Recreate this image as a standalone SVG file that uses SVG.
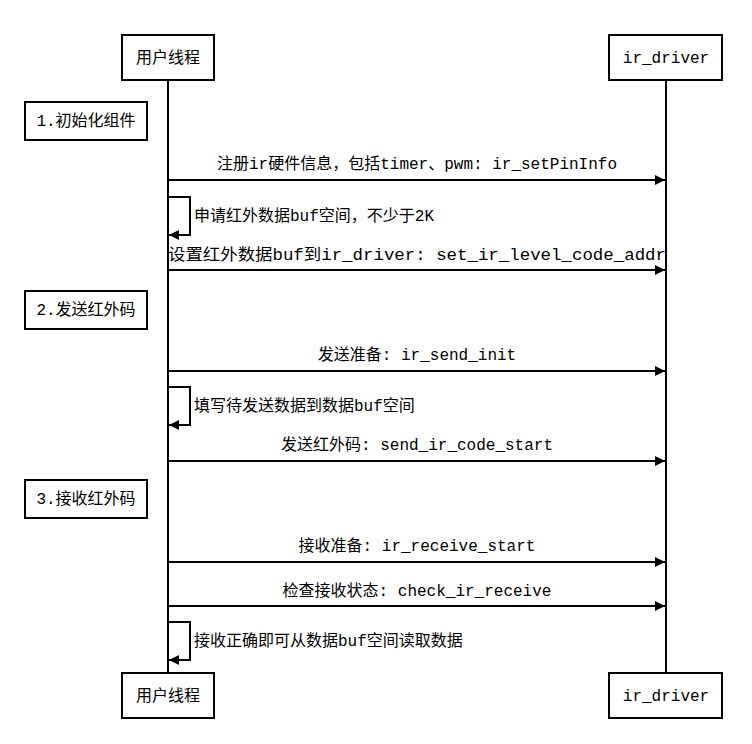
<svg xmlns="http://www.w3.org/2000/svg" width="752" height="744" viewBox="0 0 752 744">
<style>
.b{fill:#fff;stroke:#000;stroke-width:2}
.l{stroke:#000;stroke-width:2;fill:none}
text{font-family:'Courier New','Liberation Mono','DejaVu Sans Mono','Noto Sans CJK SC',monospace;font-size:16px;fill:#000}
.c{text-anchor:middle}
</style>
<defs><marker id="a" markerWidth="10" markerHeight="10" refX="10" refY="5" orient="auto" markerUnits="userSpaceOnUse"><path d="M0,0L10,5L0,10z"/></marker></defs>
<rect width="752" height="744" fill="#fff"/>
<g id="lifelines">
<line class="l" x1="168" y1="80" x2="168" y2="673"/>
<line class="l" x1="666" y1="80" x2="666" y2="673"/>
</g>
<g id="user_top"><rect class="b" x="122" y="35" width="92" height="45"/><text class="c" x="168" y="63">用户线程</text></g>
<g id="drv_top"><rect class="b" x="609" y="35" width="113" height="45"/><text class="c" x="666" y="63">ir_driver</text></g>
<g id="user_bot"><rect class="b" x="122" y="673" width="92" height="45"/><text class="c" x="168" y="701">用户线程</text></g>
<g id="drv_bot"><rect class="b" x="609" y="673" width="113" height="45"/><text class="c" x="666" y="701">ir_driver</text></g>
<g id="n1"><rect class="b" x="25" y="102" width="122" height="38"/><text class="c" x="86" y="126">1.初始化组件</text></g>
<g id="n2"><rect class="b" x="25" y="291" width="122" height="38"/><text class="c" x="86" y="315">2.发送红外码</text></g>
<g id="n3"><rect class="b" x="25" y="480" width="122" height="38"/><text class="c" x="86" y="504">3.接收红外码</text></g>
<g id="connectors">
<line class="l" x1="168" y1="180" x2="665" y2="180" marker-end="url(#a)"/>
<text class="c" x="417" y="169">注册ir硬件信息，包括timer、pwm: ir_setPinInfo</text>
<path class="l" d="M168,197H190V235H169" marker-end="url(#a)"/>
<text x="194" y="221">申请红外数据buf空间，不少于2K</text>
<line class="l" x1="168" y1="270" x2="665" y2="270" marker-end="url(#a)"/>
<text x="168" y="260" textLength="498" lengthAdjust="spacingAndGlyphs">设置红外数据buf到ir_driver: set_ir_level_code_addr</text>
<line class="l" x1="168" y1="371" x2="665" y2="371" marker-end="url(#a)"/>
<text class="c" x="417" y="360">发送准备: ir_send_init</text>
<path class="l" d="M168,387H190V425H169" marker-end="url(#a)"/>
<text x="194" y="411">填写待发送数据到数据buf空间</text>
<line class="l" x1="168" y1="461" x2="665" y2="461" marker-end="url(#a)"/>
<text class="c" x="417" y="450">发送红外码: send_ir_code_start</text>
<line class="l" x1="168" y1="562" x2="665" y2="562" marker-end="url(#a)"/>
<text class="c" x="417" y="551">接收准备: ir_receive_start</text>
<line class="l" x1="168" y1="606" x2="665" y2="606" marker-end="url(#a)"/>
<text class="c" x="417" y="596">检查接收状态: check_ir_receive</text>
<path class="l" d="M168,622H190V660H169" marker-end="url(#a)"/>
<text x="194" y="646">接收正确即可从数据buf空间读取数据</text>
</g>
</svg>
